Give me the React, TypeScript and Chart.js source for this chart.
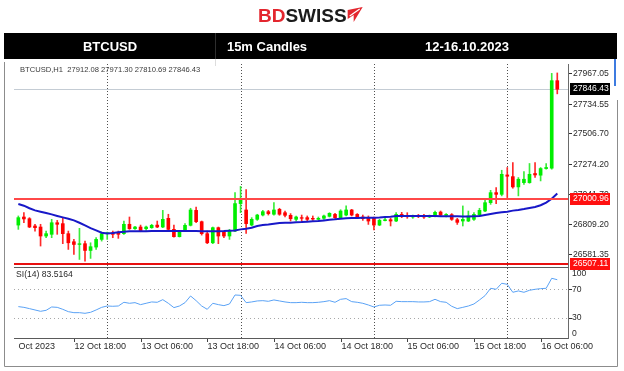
import React, { useEffect, useRef } from 'react';
import { Chart, registerables } from 'chart.js';

Chart.register(...registerables);

// ---------------- data ----------------
const symbolName = 'BTCUSD';
const timeframe = 'H1';
const headerCells = ['BTCUSD', '15m Candles', '12-16.10.2023'];

// hourly candles, 12 Oct 08:00 .. 16 Oct 09:00
const opens = [
  26803, 26865, 26852, 26796, 26788, 26719, 26732, 26821, 26814, 26737,
  26675, 26654, 26660, 26608, 26634, 26693, 26737, 26744, 26744, 26737,
  26809, 26775, 26788, 26775, 26783, 26803, 26788, 26855, 26770, 26714,
  26757, 26801, 26916, 26829, 26737, 26667, 26783, 26749, 26719, 26757,
  26968, 26919, 26803, 26847, 26880, 26906, 26886, 26924, 26898, 26878,
  26847, 26860, 26860, 26855, 26847, 26855, 26870, 26885, 26860, 26880,
  26919, 26885, 26865, 26860, 26855, 26803, 26837, 26844, 26834, 26885,
  26875, 26865, 26875, 26873, 26865, 26870, 26903, 26878, 26883, 26844,
  26834, 26834, 26847, 26880, 26911, 26975, 27052, 27039, 27188, 27175,
  27096, 27129, 27129, 27199, 27186, 27237, 27240, 27912.08,
];
const highs = [
  26873, 26898, 26860, 26809, 26809, 26757, 26847, 26839, 26860, 26757,
  26693, 26778, 26680, 26667, 26706, 26749, 26749, 26757, 26757, 26834,
  26865, 26793, 26803, 26796, 26809, 26834, 26916, 26886, 26803, 26762,
  26814, 26932, 26942, 26834, 26757, 26788, 26788, 26757, 26770, 27052,
  27100, 27075, 26860, 26886, 26916, 26916, 26975, 26932, 26911, 26891,
  26873, 26880, 26873, 26873, 26865, 26880, 26898, 26893, 26921, 26950,
  26924, 26891, 26880, 26873, 26865, 26847, 26860, 26855, 26898, 26901,
  26898, 26880, 26885, 26885, 26880, 26911, 26911, 26891, 26891, 26855,
  26950, 26911, 26898, 26932, 27009, 27070, 27091, 27224, 27245, 27283,
  27168, 27214, 27276, 27283, 27245, 27276, 27968, 27971.30,
];
const lows = [
  26770, 26821, 26783, 26757, 26642, 26706, 26706, 26732, 26660, 26616,
  26577, 26539, 26526, 26547, 26616, 26680, 26693, 26706, 26701, 26732,
  26770, 26770, 26752, 26762, 26778, 26783, 26783, 26757, 26711, 26711,
  26752, 26796, 26821, 26726, 26660, 26660, 26660, 26706, 26693, 26752,
  26898, 26738, 26796, 26839, 26873, 26880, 26880, 26878, 26865, 26834,
  26834, 26829, 26834, 26839, 26842, 26847, 26865, 26855, 26855, 26873,
  26873, 26855, 26839, 26808, 26765, 26798, 26834, 26796, 26829, 26860,
  26855, 26855, 26860, 26855, 26860, 26865, 26873, 26865, 26839, 26808,
  26796, 26829, 26839, 26873, 26906, 26962, 26968, 27027, 27014, 27086,
  27027, 27116, 27124, 27168, 27142, 27232, 27232, 27810.69,
];
const closes = [
  26860, 26850, 26788, 26783, 26719, 26737, 26821, 26809, 26737, 26667,
  26654, 26660, 26608, 26637, 26693, 26737, 26744, 26732, 26732, 26809,
  26775, 26788, 26757, 26788, 26801, 26788, 26847, 26770, 26714, 26757,
  26801, 26919, 26829, 26737, 26667, 26783, 26719, 26719, 26757, 26968,
  27001, 26814, 26847, 26880, 26906, 26891, 26919, 26886, 26878, 26852,
  26865, 26855, 26847, 26849, 26855, 26873, 26893, 26860, 26911, 26919,
  26880, 26860, 26852, 26834, 26803, 26839, 26844, 26834, 26885, 26873,
  26867, 26873, 26870, 26865, 26873, 26901, 26880, 26885, 26847, 26824,
  26847, 26873, 26885, 26916, 26975, 27052, 27039, 27193, 27178, 27096,
  27155, 27155, 27193, 27188, 27237, 27245, 27912, 27846.43,
];
const maValues = [
  26965, 26952, 26932, 26916, 26906, 26896, 26885, 26873, 26862, 26852,
  26839, 26821, 26801, 26780, 26762, 26744, 26739, 26742, 26747, 26752,
  26755, 26755, 26755, 26755, 26757, 26757, 26757, 26757, 26757, 26757,
  26757, 26757, 26757, 26755, 26755, 26755, 26755, 26757, 26760, 26762,
  26770, 26775, 26783, 26796, 26803, 26808, 26814, 26819, 26821, 26821,
  26824, 26826, 26829, 26832, 26834, 26839, 26844, 26847, 26852, 26855,
  26857, 26857, 26860, 26860, 26860, 26862, 26865, 26867, 26872, 26872,
  26872, 26872, 26872, 26872, 26872, 26872, 26870, 26870, 26870, 26870,
  26868, 26868, 26870, 26872, 26880, 26888, 26896, 26901, 26906, 26914,
  26919, 26926, 26934, 26942, 26955, 26975, 27005, 27045,
];
const rsiValues = [
  45.6, 44.6, 42.8, 40.9, 39.0, 40.4, 45.1, 44.6, 41.8, 38.5,
  37.1, 37.1, 36.2, 37.6, 40.9, 44.6, 46.5, 46.1, 46.5, 51.7,
  50.3, 51.2, 48.4, 50.3, 52.2, 51.7, 55.4, 50.3, 44.2, 46.5,
  51.2, 60.6, 54.0, 46.5, 41.8, 50.3, 48.4, 47.0, 49.3, 62.0,
  61.5, 51.2, 52.2, 53.6, 54.0, 53.1, 55.0, 53.6, 52.2, 51.2,
  51.2, 51.7, 51.2, 51.2, 51.7, 52.6, 54.0, 51.7, 55.9, 56.9,
  52.6, 51.7, 50.3, 47.9, 45.1, 47.5, 47.9, 47.5, 53.1, 52.6,
  52.6, 52.6, 52.2, 52.2, 52.6, 55.9, 52.6, 51.7, 46.1, 42.8,
  44.6, 46.5, 49.3, 55.0, 61.1, 71.4, 70.0, 78.5, 77.0, 65.8,
  67.7, 65.8, 68.6, 70.0, 70.9, 71.4, 85.5, 83.5164,
];
const rsiName = 'RSI(14)';
const priceTicks = [27967.05, 27734.55, 27506.70, 27274.20, 27041.70, 26809.20, 26581.35];
const levelLines = [27000.96, 26507.11];
const bidPrice = 27846.43;
const rsiTicks = [100, 70, 30, 0];
const rsiLevels = [70, 30];
const timeTickIndex = [0, 10, 22, 34, 46, 58, 70, 82, 94];
const timeTickLabels = [
  '12 Oct 2023', '12 Oct 18:00', '13 Oct 06:00', '13 Oct 18:00', '14 Oct 06:00',
  '14 Oct 18:00', '15 Oct 06:00', '15 Oct 18:00', '16 Oct 06:00',
];
const dayBreakIndex = [16, 40, 64, 88];

// ---------------- layout ----------------
const W = 624;
const H = 371;
const PL = 14;     // plot left
const PR = 568;    // plot right (price axis)
const MT = 64;     // main top
const MB = 267;    // main bottom
const RT = 268;    // rsi top
const RB = 339;    // rsi bottom
const X_MIN = -0.78;
const X_MAX = 98.93;
const Y_MIN = 26481;
const Y_MAX = 28040;

const FONT = '"Liberation Sans", Arial, sans-serif';
const UP = '#00ee00';
const DOWN = '#ff0000';
const idx = opens.map((_, i) => i);

function drawHeader(ctx: CanvasRenderingContext2D) {
  ctx.save();
  // logo
  ctx.font = `bold 19px ${FONT}`;
  ctx.textBaseline = 'alphabetic';
  ctx.textAlign = 'left';
  ctx.fillStyle = '#e3262e';
  ctx.fillText('BD', 258, 22);
  const wBD = ctx.measureText('BD').width;
  ctx.fillStyle = '#1b1b1b';
  ctx.fillText('SWISS', 258 + wBD, 22);
  const wS = ctx.measureText('SWISS').width;
  const ax = 258 + wBD + wS + 1;
  ctx.fillStyle = '#e3262e';
  ctx.beginPath();
  ctx.moveTo(ax, 10);
  ctx.lineTo(ax + 15, 7);
  ctx.lineTo(ax + 6, 22);
  ctx.lineTo(ax + 6, 15);
  ctx.lineTo(ax, 19);
  ctx.closePath();
  ctx.fill();
  ctx.strokeStyle = '#ffffff';
  ctx.lineWidth = 1.2;
  ctx.beginPath();
  ctx.moveTo(ax + 2, 16);
  ctx.lineTo(ax + 12, 9);
  ctx.stroke();

  // black bar
  ctx.fillStyle = '#000000';
  ctx.fillRect(4, 33, 613, 26);
  ctx.strokeStyle = 'rgba(255,255,255,0.18)';
  ctx.lineWidth = 1;
  ctx.beginPath();
  ctx.moveTo(215.5, 33);
  ctx.lineTo(215.5, 59);
  ctx.stroke();
  ctx.strokeStyle = '#dddddd';
  ctx.beginPath();
  ctx.moveTo(215.5, 59);
  ctx.lineTo(215.5, 66);
  ctx.stroke();

  ctx.fillStyle = '#ffffff';
  ctx.font = `bold 13px ${FONT}`;
  ctx.textAlign = 'center';
  ctx.textBaseline = 'middle';
  const cx = [110, 267, 467];
  headerCells.forEach((t, k) => ctx.fillText(t, cx[k], 47));
  ctx.restore();
}

const mainPlugin = {
  id: 'mainDecor',
  beforeDatasetsDraw(chart: any) {
    const ctx: CanvasRenderingContext2D = chart.ctx;
    const xs = chart.scales.x;
    const ys = chart.scales.y;
    drawHeader(ctx);
    ctx.save();
    // day separators
    ctx.strokeStyle = '#505050';
    ctx.lineWidth = 1;
    ctx.setLineDash([1, 2]);
    dayBreakIndex.forEach((i) => {
      const x = Math.round(xs.getPixelForValue(i)) + 0.5;
      ctx.beginPath();
      ctx.moveTo(x, MT);
      ctx.lineTo(x, MB);
      ctx.stroke();
    });
    ctx.setLineDash([]);
    // bid line
    const yb = Math.round(ys.getPixelForValue(bidPrice)) + 0.5;
    ctx.strokeStyle = '#c4ccd4';
    ctx.beginPath();
    ctx.moveTo(PL, yb);
    ctx.lineTo(PR, yb);
    ctx.stroke();
    ctx.restore();
  },
  afterDatasetsDraw(chart: any) {
    const ctx: CanvasRenderingContext2D = chart.ctx;
    const ys = chart.scales.y;
    ctx.save();
    // horizontal levels
    levelLines.forEach((v, k) => {
      const y = Math.round(ys.getPixelForValue(v));
      ctx.strokeStyle = k === 0 ? '#ff4848' : '#e81010';
      ctx.lineWidth = 2;
      ctx.beginPath();
      ctx.moveTo(PL, y);
      ctx.lineTo(PR, y);
      ctx.stroke();
    });
    // price axis line
    ctx.strokeStyle = '#6a6a6a';
    ctx.lineWidth = 1;
    ctx.beginPath();
    ctx.moveTo(PR + 0.5, MT);
    ctx.lineTo(PR + 0.5, RB);
    ctx.stroke();
    // price ticks & labels
    ctx.font = `8.6px ${FONT}`;
    ctx.textAlign = 'left';
    ctx.textBaseline = 'middle';
    priceTicks.forEach((v) => {
      const y = Math.round(ys.getPixelForValue(v)) + 0.5;
      ctx.strokeStyle = '#333';
      ctx.beginPath();
      ctx.moveTo(PR + 1, y);
      ctx.lineTo(PR + 4, y);
      ctx.stroke();
      ctx.fillStyle = '#2a2a2a';
      ctx.fillText(v.toFixed(2), PR + 5, y);
    });
    // value boxes
    const box = (v: number, bg: string) => {
      const y = ys.getPixelForValue(v);
      ctx.fillStyle = bg;
      ctx.fillRect(PR + 2, Math.round(y) - 6, 40, 12);
      ctx.fillStyle = '#ffffff';
      ctx.fillText(v.toFixed(2), PR + 5, Math.round(y));
    };
    box(bidPrice, '#000000');
    levelLines.forEach((v) => box(v, '#ff1010'));

    // info line (top partly hidden under the header bar, as in the source)
    ctx.save();
    ctx.beginPath();
    ctx.rect(PL, 67, PR - PL, 12);
    ctx.clip();
    ctx.font = `7.6px ${FONT}`;
    ctx.fillStyle = '#3a3a3a';
    ctx.textBaseline = 'alphabetic';
    const n = opens.length - 1;
    const info = `${symbolName},${timeframe}  ${opens[n].toFixed(2)} ${highs[n].toFixed(2)} ${lows[n].toFixed(2)} ${closes[n].toFixed(2)}`;
    ctx.fillText(info, 20, 72);
    ctx.restore();

    // frame
    ctx.strokeStyle = '#8c8c8c';
    ctx.lineWidth = 1;
    ctx.beginPath();
    ctx.moveTo(4.5, 62);
    ctx.lineTo(4.5, 366.5);
    ctx.lineTo(617.5, 366.5);
    ctx.moveTo(617.5, 100);
    ctx.lineTo(617.5, 366.5);
    ctx.stroke();
    ctx.strokeStyle = '#3d7be0';
    ctx.lineWidth = 2;
    ctx.beginPath();
    ctx.moveTo(615, 59);
    ctx.lineTo(615, 86);
    ctx.stroke();
    ctx.restore();
  },
};

const rsiPlugin = {
  id: 'rsiDecor',
  beforeDatasetsDraw(chart: any) {
    const ctx: CanvasRenderingContext2D = chart.ctx;
    const xs = chart.scales.x;
    const ys = chart.scales.y;
    ctx.save();
    ctx.lineWidth = 1;
    ctx.setLineDash([1, 3]);
    ctx.strokeStyle = '#a8a8a8';
    rsiLevels.forEach((v) => {
      const y = Math.round(ys.getPixelForValue(v)) + 0.5;
      ctx.beginPath();
      ctx.moveTo(PL, y);
      ctx.lineTo(PR, y);
      ctx.stroke();
    });
    ctx.setLineDash([1, 2]);
    ctx.strokeStyle = '#505050';
    dayBreakIndex.forEach((i) => {
      const x = Math.round(xs.getPixelForValue(i)) + 0.5;
      ctx.beginPath();
      ctx.moveTo(x, RT);
      ctx.lineTo(x, RB);
      ctx.stroke();
    });
    ctx.setLineDash([]);
    ctx.restore();
  },
  afterDatasetsDraw(chart: any) {
    const ctx: CanvasRenderingContext2D = chart.ctx;
    const xs = chart.scales.x;
    const ys = chart.scales.y;
    ctx.save();
    ctx.lineWidth = 1;
    ctx.strokeStyle = '#5a5a5a';
    ctx.beginPath();
    ctx.moveTo(PL, RT - 0.5);
    ctx.lineTo(PR, RT - 0.5);
    ctx.moveTo(PL, RB - 0.5);
    ctx.lineTo(PR, RB - 0.5);
    ctx.stroke();

    ctx.font = `8.6px ${FONT}`;
    ctx.fillStyle = '#2a2a2a';
    ctx.textAlign = 'left';
    ctx.textBaseline = 'middle';
    rsiTicks.forEach((v) => {
      const py = ys.getPixelForValue(v);
      const y = Math.min(Math.max(py, RT + 6), RB - 5);
      if (v !== 100 && v !== 0) {
        ctx.strokeStyle = '#333';
        ctx.beginPath();
        ctx.moveTo(PR + 1, Math.round(py) + 0.5);
        ctx.lineTo(PR + 4, Math.round(py) + 0.5);
        ctx.stroke();
      }
      ctx.fillText(String(v), PR + 4, y);
    });

    // indicator label
    ctx.save();
    ctx.beginPath();
    ctx.rect(16, RT, 200, 14);
    ctx.clip();
    ctx.font = `8.6px ${FONT}`;
    ctx.fillStyle = '#2a2a2a';
    ctx.fillText(`${rsiName} ${rsiValues[rsiValues.length - 1].toFixed(4)}`, 9.8, RT + 7);
    ctx.restore();

    // time axis
    ctx.save();
    ctx.beginPath();
    ctx.rect(17, RB, W - 17 - 10, 20);
    ctx.clip();
    ctx.font = `9px ${FONT}`;
    ctx.fillStyle = '#2a2a2a';
    ctx.strokeStyle = '#444';
    timeTickIndex.forEach((i, k) => {
      const x = Math.round(xs.getPixelForValue(i)) + 0.5;
      if (k > 0) {
        ctx.beginPath();
        ctx.moveTo(x, RB);
        ctx.lineTo(x, RB + 3);
        ctx.stroke();
        ctx.fillText(timeTickLabels[k], x, 347);
      } else {
        ctx.fillText(timeTickLabels[k], x - 12.5, 347);
      }
    });
    ctx.restore();
    ctx.restore();
  },
};

export default function App() {
  const mainRef = useRef<HTMLCanvasElement>(null);
  const rsiRef = useRef<HTMLCanvasElement>(null);

  useEffect(() => {
    const up = (i: number) => closes[i] >= opens[i];
    const mainChart = new Chart(mainRef.current as HTMLCanvasElement, {
      type: 'bar',
      data: {
        datasets: [
          {
            type: 'line',
            label: 'MA',
            data: idx.map((i) => ({ x: i, y: maValues[i] })),
            borderColor: '#1818c8',
            borderWidth: 2,
            pointRadius: 0,
            tension: 0,
            order: 0,
          } as any,
          {
            type: 'bar',
            label: 'body',
            data: idx.map((i) => ({ x: i, y: [Math.min(opens[i], closes[i]), Math.max(opens[i], closes[i])] })),
            backgroundColor: idx.map((i) => (up(i) ? UP : DOWN)),
            borderWidth: 0,
            barThickness: 3,
            grouped: false,
            order: 1,
          } as any,
          {
            type: 'bar',
            label: 'wick',
            data: idx.map((i) => ({ x: i, y: [lows[i], highs[i]] })),
            backgroundColor: idx.map((i) => (up(i) ? '#39ec39' : '#ff2a2a')),
            borderWidth: 0,
            barThickness: 1,
            grouped: false,
            order: 2,
          } as any,
        ],
      },
      options: {
        animation: false,
        responsive: false,
        maintainAspectRatio: false,
        devicePixelRatio: 1,
        events: [],
        layout: { padding: { left: PL, right: W - PR, top: MT, bottom: H - MB } },
        plugins: { legend: { display: false }, tooltip: { enabled: false }, title: { display: false } },
        scales: {
          x: { type: 'linear', min: X_MIN, max: X_MAX, display: false, offset: false },
          y: { type: 'linear', min: Y_MIN, max: Y_MAX, display: false },
        },
      } as any,
      plugins: [mainPlugin],
    });

    const rsiChart = new Chart(rsiRef.current as HTMLCanvasElement, {
      type: 'line',
      data: {
        datasets: [
          {
            label: rsiName,
            data: idx.map((i) => ({ x: i, y: rsiValues[i] })),
            borderColor: '#5aa2f5',
            borderWidth: 1,
            pointRadius: 0,
            tension: 0,
          },
        ],
      },
      options: {
        animation: false,
        responsive: false,
        maintainAspectRatio: false,
        devicePixelRatio: 1,
        events: [],
        layout: { padding: { left: PL, right: W - PR, top: RT, bottom: H - RB } },
        plugins: { legend: { display: false }, tooltip: { enabled: false }, title: { display: false } },
        scales: {
          x: { type: 'linear', min: X_MIN, max: X_MAX, display: false },
          y: { type: 'linear', min: 0, max: 100, display: false },
        },
      } as any,
      plugins: [rsiPlugin],
    });

    return () => {
      mainChart.destroy();
      rsiChart.destroy();
    };
  }, []);

  const cs: React.CSSProperties = { position: 'absolute', left: 0, top: 0, width: W, height: H };
  return (
    <div style={{ position: 'absolute', left: 0, top: 0, width: W, height: H, background: '#ffffff' }}>
      <canvas ref={mainRef} width={W} height={H} style={cs} />
      <canvas ref={rsiRef} width={W} height={H} style={cs} />
    </div>
  );
}
